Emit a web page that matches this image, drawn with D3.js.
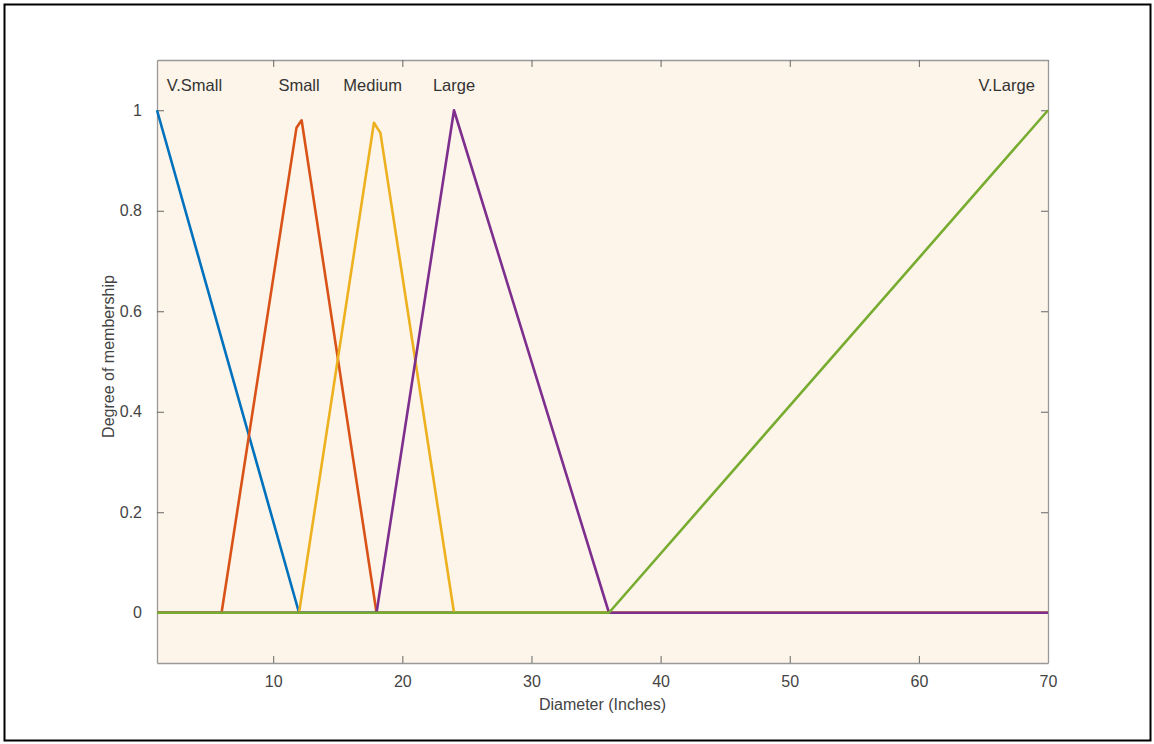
<!DOCTYPE html>
<html>
<head>
<meta charset="utf-8">
<script src="https://cdn.jsdelivr.net/npm/d3@7"></script>
<style>
html,body{margin:0;padding:0;background:#fff;}
svg{display:block;font-family:"Liberation Sans",Arial,sans-serif;}
</style>
</head>
<body>
<svg id="chart" width="1154" height="744"></svg>
<script>
// Data
const seriesNames = ["V.Small","Small","Medium","Large","V.Large"];
const vSmall = [[1,1],[12,0],[70,0]];
const small  = [[1,0],[6,0],[11.8,0.965],[12.2,0.98],[18,0],[70,0]];
const medium = [[1,0],[12,0],[17.8,0.975],[18.3,0.955],[24,0],[70,0]];
const large  = [[1,0],[18,0],[24,1],[36,0],[70,0]];
const vLarge = [[1,0],[36,0],[70,1]];
const labelX = [3.9, 12, 17.7, 24, 66.8];
const labelY = 1.05;
const xTicks = [10,20,30,40,50,60,70];
const yTicks = [0,0.2,0.4,0.6,0.8,1];
const colors = ["#0072BD","#D95319","#EDB120","#7E2F8E","#77AC30"];

const svg = d3.select("#chart");
svg.append("rect").attr("x",4.5).attr("y",4.5).attr("width",1146).attr("height",736)
  .attr("fill","#fff").attr("stroke","#000").attr("stroke-width",2);

const L=157, R=1048, T=60, B=663;
const x = d3.scaleLinear().domain([1,70]).range([L,R]);
const y = d3.scaleLinear().domain([-0.1,1.1]).range([B,T]);

svg.append("rect").attr("x",L).attr("y",T).attr("width",R-L).attr("height",B-T).attr("fill","#fdf5ea");

const axisCol = "#999", textCol = "#444";
const gx = svg.append("g").attr("transform",`translate(0,${B})`)
  .call(d3.axisBottom(x).tickValues(xTicks).tickSizeInner(-7).tickSizeOuter(0).tickPadding(13).tickFormat(d3.format("d")));
const gxt = svg.append("g").attr("transform",`translate(0,${T})`)
  .call(d3.axisTop(x).tickValues(xTicks).tickSizeInner(-7).tickSizeOuter(0).tickFormat(""));
const gy = svg.append("g").attr("transform",`translate(${L},0)`)
  .call(d3.axisLeft(y).tickValues(yTicks).tickSizeInner(-7).tickSizeOuter(0).tickPadding(15).tickFormat(d=>d3.format("~g")(d)));
const gyr = svg.append("g").attr("transform",`translate(${R},0)`)
  .call(d3.axisRight(y).tickValues(yTicks).tickSizeInner(-7).tickSizeOuter(0).tickFormat(""));
[gx,gxt,gy,gyr].forEach(g=>{
  g.select(".domain").attr("stroke",axisCol).attr("stroke-width",1.3);
  g.selectAll(".tick line").attr("stroke","#666");
  g.selectAll(".tick text").attr("fill",textCol).attr("font-size",16).attr("font-family","Liberation Sans, Arial, sans-serif");
});

const line = d3.line().x(d=>x(d[0])).y(d=>y(d[1]));
const all = [vSmall, small, medium, large, vLarge];
const plot = svg.append("g");
all.forEach((s,i)=>{
  plot.append("path").attr("d",line(s)).attr("fill","none")
    .attr("stroke",colors[i]).attr("stroke-width",2.6).attr("stroke-linejoin","round");
});

seriesNames.forEach((n,i)=>{
  svg.append("text").attr("x",x(labelX[i])).attr("y",y(labelY)).attr("dy","0.35em")
    .attr("text-anchor","middle").attr("font-size",16.5).attr("fill","#333").text(n);
});

svg.append("text").attr("x",(L+R)/2).attr("y",710).attr("text-anchor","middle")
  .attr("font-size",16).attr("fill",textCol).text("Diameter (Inches)");
svg.append("text").attr("transform",`translate(108,${(T+B)/2 - 5}) rotate(-90)`).attr("dy","0.35em")
  .attr("text-anchor","middle").attr("font-size",16).attr("fill",textCol).text("Degree of membership");
</script>
</body>
</html>
